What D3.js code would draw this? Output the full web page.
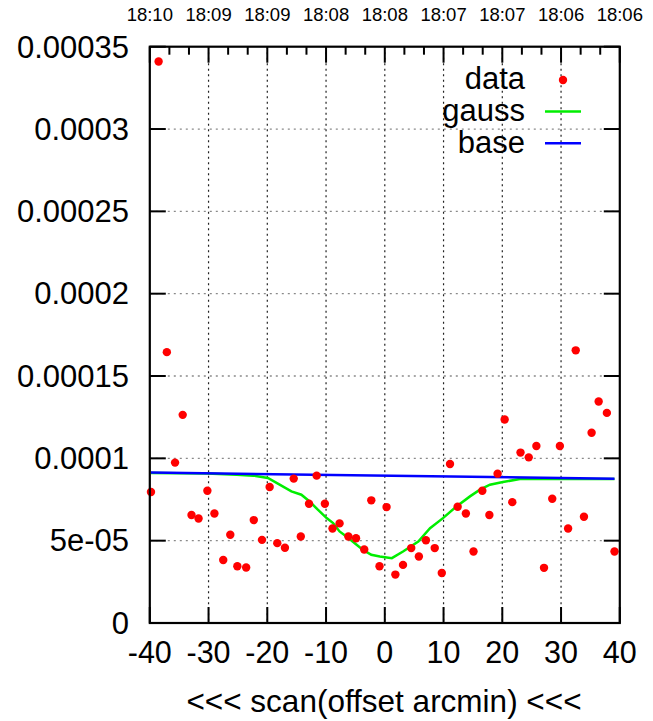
<!DOCTYPE html>
<html>
<head>
<meta charset="utf-8">
<script src="https://cdn.jsdelivr.net/npm/d3@7"></script>
<style>
  html, body { margin: 0; padding: 0; background: #ffffff; }
  svg { display: block; }
  text { font-family: "Liberation Sans", Arial, sans-serif; fill: #000; }
</style>
</head>
<body>
<svg id="chart" width="653" height="721"></svg>
<script>
// ---- data ----
const dataX = [-39.8,-38.5,-37.1,-35.7,-34.4,-32.9,-31.7,-30.2,-29.0,-27.5,-26.3,-25.1,-23.6,-22.3,-20.9,-19.6,-18.3,-17.0,-15.5,-14.3,-12.9,-11.6,-10.2,-8.9,-7.7,-6.2,-4.9,-3.5,-2.3,-0.9,0.3,1.8,3.1,4.5,5.8,7.0,8.5,9.7,11.1,12.4,13.8,15.1,16.6,17.8,19.2,20.4,21.7,23.1,24.5,25.8,27.1,28.5,29.8,31.2,32.5,33.9,35.2,36.4,37.8,39.1];
const dataY = [7.96e-5,34.1e-5,16.45e-5,9.74e-5,12.64e-5,6.56e-5,6.35e-5,8.03e-5,6.65e-5,3.83e-5,5.36e-5,3.45e-5,3.37e-5,6.25e-5,5.05e-5,8.26e-5,4.85e-5,4.57e-5,8.77e-5,5.25e-5,7.24e-5,8.95e-5,7.24e-5,5.74e-5,6.05e-5,5.25e-5,5.15e-5,4.46e-5,7.45e-5,3.45e-5,7.04e-5,2.94e-5,3.53e-5,4.55e-5,4.04e-5,5.03e-5,4.55e-5,3.04e-5,9.66e-5,7.06e-5,6.65e-5,4.34e-5,8.03e-5,6.56e-5,9.07e-5,12.36e-5,7.34e-5,10.35e-5,10.06e-5,10.75e-5,3.35e-5,7.55e-5,10.75e-5,5.74e-5,16.56e-5,6.45e-5,11.55e-5,13.45e-5,12.76e-5,4.34e-5];

const gaussX = [-39.8,-30.3,-25.2,-22.4,-19.9,-17.9,-15.9,-14.2,-12.8,-11.4,-9.9,-8.8,-7.7,-6.2,-4.8,-3.7,-2.3,-0.85,1.2,3.1,5.7,7.7,9.9,12.2,14.5,16.2,17.9,20.1,23.0,28.1,39.1];
const gaussY = [9.11e-5,9.08e-5,9.01e-5,8.95e-5,8.81e-5,8.40e-5,7.99e-5,7.79e-5,7.38e-5,6.88e-5,6.37e-5,6.07e-5,5.56e-5,5.16e-5,4.75e-5,4.44e-5,4.14e-5,4.04e-5,3.94e-5,4.34e-5,4.95e-5,5.76e-5,6.37e-5,7.08e-5,7.69e-5,8.10e-5,8.40e-5,8.56e-5,8.75e-5,8.75e-5,8.75e-5];

const baseX = [-39.8, 39.1];
const baseY = [9.14e-5, 8.76e-5];

const xTicks = [-40,-30,-20,-10,0,10,20,30,40];
const yTicks = [0,5e-5,1e-4,1.5e-4,2e-4,2.5e-4,3e-4,3.5e-4];
const yTickLabels = ["0","5e-05","0.0001","0.00015","0.0002","0.00025","0.0003","0.00035"];
const timeLabels = ["18:10","18:09","18:09","18:08","18:08","18:07","18:07","18:06","18:06"];
const legendNames = ["data","gauss","base"];
const xTitle = "<<< scan(offset arcmin) <<<";

// ---- layout ----
const L = 149.8, R = 619.8, T = 46.7, B = 623;
const svg = d3.select("#chart");
const x = d3.scaleLinear().domain([-40, 40]).range([L, R]);
const y = d3.scaleLinear().domain([0, 0.00035]).range([B, T]);

// grid
const grid = svg.append("g");
grid.selectAll("line.hg").data(yTicks.slice(1, -1)).enter().append("line")
  .attr("x1", L).attr("x2", R).attr("y1", d => y(d)).attr("y2", d => y(d))
  .attr("stroke", "#8a8a8a").attr("stroke-width", 1.3).attr("stroke-dasharray", "2,4");
grid.selectAll("line.vg").data(xTicks.slice(1, -1)).enter().append("line")
  .attr("x1", d => x(d)).attr("x2", d => x(d)).attr("y1", T).attr("y2", B)
  .attr("stroke", "#222").attr("stroke-width", 1.2).attr("stroke-dasharray", "2,3.5");

// ticks
const tk = svg.append("g").attr("stroke", "#000").attr("stroke-width", 2);
yTicks.forEach(v => {
  tk.append("line").attr("x1", L).attr("x2", L + 16).attr("y1", y(v)).attr("y2", y(v));
  tk.append("line").attr("x1", R).attr("x2", R - 16).attr("y1", y(v)).attr("y2", y(v));
});
xTicks.forEach(v => {
  tk.append("line").attr("x1", x(v)).attr("x2", x(v)).attr("y1", B).attr("y2", B - 16);
  tk.append("line").attr("x1", x(v)).attr("x2", x(v)).attr("y1", T).attr("y2", T + 16);
});
// top minor ticks (thirds)
for (let i = 0; i < xTicks.length - 1; i++) {
  [1, 2].forEach(k => {
    const v = xTicks[i] + (xTicks[i + 1] - xTicks[i]) * k / 3;
    tk.append("line").attr("x1", x(v)).attr("x2", x(v)).attr("y1", T).attr("y2", T + 8);
  });
}

// lines
const line = d3.line().x(d => x(d[0])).y(d => y(d[1]));
svg.append("path").datum(gaussX.map((v, i) => [v, gaussY[i]]))
  .attr("d", line).attr("fill", "none").attr("stroke", "#00ee00").attr("stroke-width", 2.5);
svg.append("path").datum(baseX.map((v, i) => [v, baseY[i]]))
  .attr("d", line).attr("fill", "none").attr("stroke", "#0000ff").attr("stroke-width", 2.5);

// points
svg.append("g").selectAll("circle").data(dataX.map((v, i) => [v, dataY[i]])).enter()
  .append("circle").attr("cx", d => x(d[0])).attr("cy", d => y(d[1])).attr("r", 4.2)
  .attr("fill", "#ff0000");

// border
svg.append("rect").attr("x", L).attr("y", T).attr("width", R - L).attr("height", B - T)
  .attr("fill", "none").attr("stroke", "#000").attr("stroke-width", 2.2);

// y labels
svg.append("g").selectAll("text").data(yTicks).enter().append("text")
  .attr("x", 129).attr("y", d => y(d) + 10.8).attr("text-anchor", "end")
  .attr("font-size", 31).text((d, i) => yTickLabels[i]);
// x labels
svg.append("g").selectAll("text").data(xTicks).enter().append("text")
  .attr("x", d => x(d)).attr("y", 663).attr("text-anchor", "middle")
  .attr("font-size", 30.5).text(d => d);
// top time labels
svg.append("g").selectAll("text").data(xTicks).enter().append("text")
  .attr("x", d => x(d)).attr("y", 21).attr("text-anchor", "middle")
  .attr("font-size", 18.5).text((d, i) => timeLabels[i]);
// x title
svg.append("text").attr("x", 384).attr("y", 712).attr("text-anchor", "middle")
  .attr("font-size", 31.5).text(xTitle);

// legend
const lg = svg.append("g");
const legY = [89, 121, 153];
legendNames.forEach((n, i) => {
  lg.append("text").attr("x", 525).attr("y", legY[i]).attr("text-anchor", "end")
    .attr("font-size", 31).text(n);
});
lg.append("circle").attr("cx", 563).attr("cy", 80).attr("r", 4.2).attr("fill", "#ff0000");
lg.append("line").attr("x1", 545).attr("x2", 581).attr("y1", 111.5).attr("y2", 111.5)
  .attr("stroke", "#00ee00").attr("stroke-width", 2.5);
lg.append("line").attr("x1", 545).attr("x2", 581).attr("y1", 143.3).attr("y2", 143.3)
  .attr("stroke", "#0000ff").attr("stroke-width", 2.5);
</script>
</body>
</html>
